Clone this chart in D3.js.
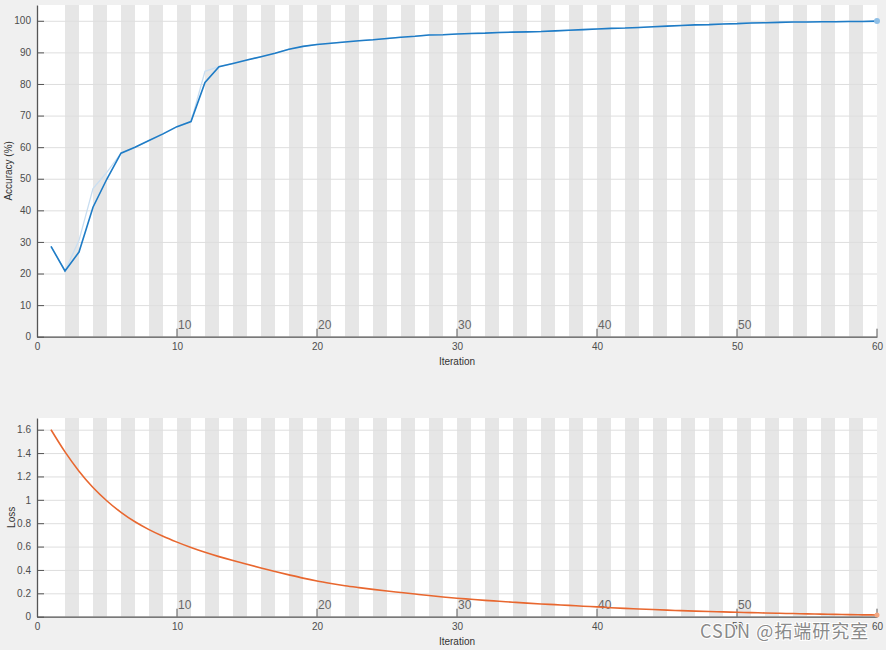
<!DOCTYPE html>
<html>
<head>
<meta charset="utf-8">
<script src="https://cdn.jsdelivr.net/npm/d3@7"></script>
<style>
  body { margin: 0; background: #f0f0f0; }
  svg { display: block; font-family: "Liberation Sans", Arial, sans-serif; }
  .tick-label { font-size: 10px; fill: #4d4d4d; }
  .epoch-label { font-size: 12px; fill: #666; }
  .axis-title { font-size: 10px; fill: #333; }
</style>
</head>
<body>
<svg id="chart" width="886" height="650"></svg>
<script>
// Data
const iterations = d3.range(1, 61);

const accuracySmoothed = [
  28.6, 20.8, 26.8, 41.0, 50.0, 58.1, 60.0, 62.1, 64.2, 66.5,
  68.1, 80.5, 85.5, 86.5, 87.6, 88.6, 89.7, 91.0, 91.9, 92.5,
  92.9, 93.3, 93.7, 94.0, 94.4, 94.8, 95.1, 95.5, 95.6, 95.8,
  96.0, 96.1, 96.3, 96.4, 96.5, 96.6, 96.8, 97.0, 97.2, 97.4,
  97.6, 97.7, 97.9, 98.1, 98.3, 98.5, 98.7, 98.8, 99.0, 99.1,
  99.3, 99.4, 99.5, 99.6, 99.6, 99.7, 99.7, 99.8, 99.8, 99.9
];

const accuracyRaw = [
  28.6, 20.8, 30.5, 46.9, 52.1, 58.1, 60.0, 62.1, 64.2, 66.5,
  68.1, 84.0, 85.5, 86.5, 87.6, 88.6, 89.7, 91.0, 91.9, 92.5,
  92.9, 93.3, 93.7, 94.0, 94.4, 94.8, 95.1, 95.5, 95.6, 95.8,
  96.0, 96.1, 96.3, 96.4, 96.5, 96.6, 96.8, 97.0, 97.2, 97.4,
  97.6, 97.7, 97.9, 98.1, 98.3, 98.5, 98.7, 98.8, 99.0, 99.1,
  99.3, 99.4, 99.5, 99.6, 99.6, 99.7, 99.7, 99.8, 99.8, 99.9
];

const loss = [
  1.60, 1.41, 1.245, 1.105, 0.99, 0.893, 0.812, 0.745, 0.688, 0.638,
  0.592, 0.551, 0.514, 0.48, 0.448, 0.417, 0.387, 0.358, 0.33, 0.305,
  0.284, 0.265, 0.249, 0.234, 0.22, 0.207, 0.194, 0.181, 0.169, 0.158,
  0.149, 0.14, 0.132, 0.124, 0.116, 0.109, 0.103, 0.097, 0.09, 0.084,
  0.077, 0.071, 0.066, 0.061, 0.056, 0.052, 0.048, 0.044, 0.041, 0.038,
  0.035, 0.032, 0.029, 0.027, 0.024, 0.022, 0.02, 0.018, 0.016, 0.015
];

const xTicks = [0, 10, 20, 30, 40, 50, 60];
const epochMarks = [10, 20, 30, 40, 50, 60];
const accTicks = [0, 10, 20, 30, 40, 50, 60, 70, 80, 90, 100];
const lossTicks = [0, 0.2, 0.4, 0.6, 0.8, 1, 1.2, 1.4, 1.6];

const svg = d3.select('#chart');

const left = 37, right = 877;

const x = d3.scaleLinear()
  .domain([0, 60])
  .range([left, right]);

function drawPanel(opts) {
  const y = d3.scaleLinear()
    .domain(opts.domain)
    .range([opts.bottom, opts.top]);

  const g = svg.append('g');

  // plot background
  g.append('rect')
    .attr('x', left)
    .attr('y', opts.top)
    .attr('width', right - left)
    .attr('height', opts.bottom - opts.top)
    .attr('fill', '#fff');

  // alternating iteration shading
  g.append('g')
    .selectAll('rect')
    .data(d3.range(1, 30))
    .enter()
    .append('rect')
      .attr('x', (k) => x(2 * k))
      .attr('y', opts.top)
      .attr('width', x(1) - x(0))
      .attr('height', opts.bottom - opts.top)
      .attr('fill', '#e6e6e6');

  // horizontal grid
  g.append('g')
    .attr('transform', `translate(${left},0)`)
    .call(d3.axisLeft(y)
      .tickValues(opts.ticks)
      .tickSize(-(right - left))
      .tickFormat(''))
    .call((a) => a.select('.domain').remove())
    .call((a) => a.selectAll('line').attr('stroke', '#dedede'));

  // left axis, ticks pointing inward
  g.append('g')
    .attr('transform', `translate(${left},0)`)
    .call(d3.axisLeft(y)
      .tickValues(opts.ticks)
      .tickSizeInner(-7)
      .tickSizeOuter(0)
      .tickPadding(6)
      .tickFormat(opts.format))
    .call((a) => a.select('.domain').attr('stroke', '#555').attr('stroke-width', 1.3))
    .call((a) => a.selectAll('line').attr('stroke', '#555'))
    .call((a) => a.selectAll('text').attr('class', 'tick-label').attr('fill', null));

  // bottom axis
  g.append('g')
    .attr('transform', `translate(0,${opts.bottom})`)
    .call(d3.axisBottom(x)
      .tickValues(xTicks)
      .tickSize(0)
      .tickPadding(6)
      .tickFormat(d3.format('d')))
    .call((a) => a.select('.domain').attr('stroke', '#555').attr('stroke-width', 1.3))
    .call((a) => a.selectAll('text').attr('class', 'tick-label').attr('fill', null));

  // epoch markers
  const marks = g.append('g')
    .selectAll('g')
    .data(epochMarks)
    .enter()
    .append('g');

  marks.append('line')
    .attr('x1', (d) => x(d))
    .attr('x2', (d) => x(d))
    .attr('y1', opts.bottom)
    .attr('y2', opts.bottom - 8)
    .attr('stroke', '#555')
    .attr('stroke-width', 1);

  marks.filter((d) => d < 60)
    .append('text')
    .attr('class', 'epoch-label')
    .attr('x', (d) => x(d) + 1)
    .attr('y', opts.bottom - 8)
    .text((d) => d);

  // titles
  svg.append('text')
    .attr('class', 'axis-title')
    .attr('x', (left + right) / 2)
    .attr('y', opts.bottom + 28)
    .attr('text-anchor', 'middle')
    .text('Iteration');

  svg.append('text')
    .attr('class', 'axis-title')
    .attr('transform', `translate(${opts.titleX},${(opts.top + opts.bottom) / 2}) rotate(-90)`)
    .attr('text-anchor', 'middle')
    .text(opts.title);

  return { g, y };
}

// Accuracy panel
const acc = drawPanel({
  top: 5, bottom: 336.7, domain: [0, 105], ticks: accTicks,
  format: d3.format('d'), title: 'Accuracy (%)', titleX: 12
});

const accLine = d3.line()
  .x((d, i) => x(iterations[i]))
  .y((d) => acc.y(d));

acc.g.append('path')
  .datum(accuracyRaw)
  .attr('fill', 'none')
  .attr('stroke', '#c9def1')
  .attr('stroke-width', 1.3)
  .attr('d', accLine);

acc.g.append('path')
  .datum(accuracySmoothed)
  .attr('fill', 'none')
  .attr('stroke', '#1f7cc6')
  .attr('stroke-width', 1.6)
  .attr('d', accLine);

acc.g.append('circle')
  .attr('cx', x(iterations[59]))
  .attr('cy', acc.y(accuracySmoothed[59]))
  .attr('r', 3)
  .attr('fill', '#8fbfe6');

// Loss panel
const ls = drawPanel({
  top: 418, bottom: 616.7, domain: [0, 1.7], ticks: lossTicks,
  format: (d) => String(d), title: 'Loss', titleX: 15
});

ls.g.append('path')
  .datum(loss)
  .attr('fill', 'none')
  .attr('stroke', '#e8672f')
  .attr('stroke-width', 1.6)
  .attr('d', d3.line()
    .curve(d3.curveMonotoneX)
    .x((d, i) => x(iterations[i]))
    .y((d) => ls.y(d)));

ls.g.append('circle')
  .attr('cx', x(iterations[59]))
  .attr('cy', ls.y(loss[59]))
  .attr('r', 2.5)
  .attr('fill', '#f3a882');

// watermark
svg.append('text')
  .attr('x', 700)
  .attr('y', 638)
  .attr('font-size', 18)
  .attr('letter-spacing', 1)
  .attr('fill', '#8a8a8a')
  .attr('stroke', '#fff')
  .attr('stroke-width', 2)
  .attr('paint-order', 'stroke')
  .attr('font-family', '"Noto Sans CJK SC", "Liberation Sans", sans-serif')
  .text('CSDN @拓端研究室');
</script>
</body>
</html>
